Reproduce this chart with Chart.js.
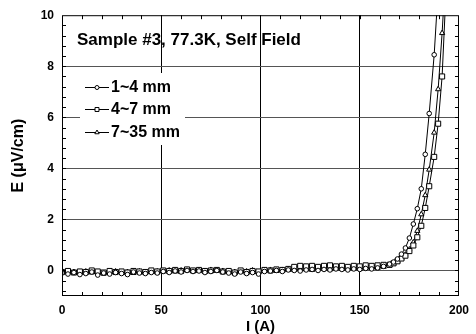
<!DOCTYPE html>
<html>
<head>
<meta charset="utf-8">
<title>E-I curves, Sample #3</title>
<script src="https://cdn.jsdelivr.net/npm/chart.js@4.4.1/dist/chart.umd.min.js"></script>
<style>
    html, body { margin: 0; padding: 0; background: #fff; }
</style>
</head>
<body>
<canvas id="eiChart" width="476" height="334"></canvas>
<script>
// transport current (A), shared by all three voltage taps
var current = [
    0, 3, 6, 9, 12, 15, 18, 21, 24, 27, 30, 33, 36, 39, 42, 45, 48,
    51, 54, 57, 60, 63, 66, 69, 72, 75, 78, 81, 84, 87, 90, 93, 96, 99,
    102, 105, 108, 111, 114, 117, 120, 123, 126, 129, 132, 135, 138, 141, 144, 147, 150, 153, 156, 159, 162,
    165, 167, 169, 171, 173, 175, 177, 179, 181, 183, 185, 187.5, 189.5, 191.5, 193.5
];

// electric field (uV/cm) for each tap spacing
var field1to4 = [
    -0.10, -0.14, -0.08, -0.16, -0.12, -0.06, -0.18, -0.10, -0.14, -0.08, -0.12, -0.16, -0.06, -0.10, -0.12, -0.08, -0.10,
    -0.04, -0.08, -0.02, -0.06, 0.00, -0.04, -0.02, -0.08, -0.04, 0.00, -0.06, -0.10, -0.14, -0.06, -0.12, -0.08, -0.14,
    -0.04, -0.02, 0.00, -0.04, 0.02, 0.00, -0.02, 0.02, 0.04, 0.00, 0.04, 0.02, 0.06, 0.04, 0.02, 0.06, 0.04, 0.08, 0.06, 0.10, 0.16,
    0.25, 0.33, 0.45, 0.64, 0.88, 1.27, 1.82, 2.42, 3.20, 4.55, 6.15, 8.45, 11.0, null, null
];
var field4to7 = [
    -0.06, -0.02, -0.08, -0.04, -0.06, 0.00, -0.04, -0.08, -0.02, -0.06, -0.04, -0.08, -0.02, -0.04, -0.06, 0.00, -0.04,
    0.00, -0.02, 0.02, -0.02, 0.04, 0.00, 0.02, -0.02, 0.00, 0.02, -0.04, -0.02, -0.08, 0.00, -0.06, -0.02, -0.04,
    0.02, 0.00, 0.04, 0.02, 0.06, 0.14, 0.18, 0.16, 0.18, 0.14, 0.18, 0.20, 0.16, 0.18, 0.14, 0.18, 0.16, 0.20, 0.18, 0.20, 0.22,
    0.22, 0.28, 0.36, 0.47, 0.58, 0.76, 0.98, 1.30, 1.75, 2.45, 3.30, 4.45, 5.75, 7.60, 11.0
];
var field7to35 = [
    -0.04, -0.08, -0.06, -0.10, -0.04, -0.08, -0.06, -0.12, -0.06, -0.04, -0.08, -0.06, -0.10, -0.04, -0.08, -0.06, -0.04,
    -0.02, 0.00, -0.04, 0.00, 0.02, -0.02, 0.00, -0.04, 0.02, 0.00, -0.02, -0.04, -0.06, -0.02, -0.04, 0.00, -0.06,
    0.00, 0.02, -0.02, 0.02, 0.04, 0.02, 0.06, 0.04, 0.02, 0.06, 0.08, 0.04, 0.08, 0.06, 0.10, 0.08, 0.06, 0.10, 0.12, 0.10, 0.14,
    0.20, 0.27, 0.36, 0.48, 0.62, 0.82, 1.10, 1.55, 2.20, 2.95, 3.95, 5.40, 7.10, 9.30, 12.0
];

var seriesNames = ['1~4 mm', '4~7 mm', '7~35 mm'];
var xTickValues = [0, 50, 100, 150, 200];
var yTickValues = [0, 2, 4, 6, 8, 10];
var sampleTitle = 'Sample #3, 77.3K, Self Field';

var FONT = "'Liberation Sans', Arial, sans-serif";

function toPoints(values) {
    return current.map(function(x, i) {
        return { x: x, y: values[i] };
    });
}

function makeSeries(name, values, style, radius) {
    return {
        label: name,
        data: toPoints(values),
        borderColor: '#000',
        borderWidth: 1,
        pointStyle: style,
        pointRadius: radius,
        pointBackgroundColor: '#fff',
        pointBorderColor: '#000',
        pointBorderWidth: 1,
        tension: 0,
        spanGaps: false
    };
}

// frame, inward minor ticks, sample label and the legend box
var decorations = {
    id: 'decorations',
    afterDraw: function(chart) {
        var ctx = chart.ctx;
        var a = chart.chartArea;
        var xs = chart.scales.x, ys = chart.scales.y;
        ctx.save();
        ctx.strokeStyle = '#000';
        ctx.lineWidth = 1;

        ctx.beginPath();
        for (var v = 10; v < 200; v += 10) {
            var px = Math.round(xs.getPixelForValue(v)) + 0.5;
            ctx.moveTo(px, a.bottom); ctx.lineTo(px, a.bottom - 4);
            ctx.moveTo(px, a.top); ctx.lineTo(px, a.top + 4);
        }
        for (var k = -2; k < 25; k++) {
            var py = Math.round(ys.getPixelForValue(k * 0.4)) + 0.5;
            ctx.moveTo(a.left, py); ctx.lineTo(a.left + 4, py);
            ctx.moveTo(a.right, py); ctx.lineTo(a.right - 4, py);
        }
        ctx.stroke();

        ctx.strokeRect(a.left + 0.5, a.top + 0.5, a.right - a.left - 1, a.bottom - a.top - 1);

        ctx.fillStyle = '#000';
        ctx.font = 'bold 17px ' + FONT;
        ctx.textBaseline = 'middle';
        ctx.textAlign = 'left';
        ctx.fillText(sampleTitle, 77, 40);

        ctx.fillStyle = '#fff';
        ctx.fillRect(80, 73, 105, 72);

        ctx.font = 'bold 16px ' + FONT;
        var rows = [87, 109, 132];
        var styles = ['circle', 'rect', 'triangle'];
        var radii = [2, 2.8, 2.5];
        for (var i = 0; i < seriesNames.length; i++) {
            ctx.beginPath();
            ctx.moveTo(85, rows[i] + 0.5);
            ctx.lineTo(109, rows[i] + 0.5);
            ctx.stroke();
            ctx.fillStyle = '#fff';
            Chart.helpers.drawPoint(ctx, { pointStyle: styles[i], radius: radii[i], rotation: 0, borderWidth: 1 }, 97, rows[i] + 0.5);
            ctx.fillStyle = '#000';
            ctx.fillText(seriesNames[i], 111, rows[i] + 1);
        }
        ctx.restore();
    }
};

var tickFont = { family: FONT, size: 12, weight: 'bold' };

new Chart(document.getElementById('eiChart').getContext('2d'), {
    type: 'line',
    data: {
        datasets: [
            makeSeries(seriesNames[0], field1to4, 'circle', 2.3),
            makeSeries(seriesNames[1], field4to7, 'rect', 3.6),
            makeSeries(seriesNames[2], field7to35, 'triangle', 3)
        ]
    },
    options: {
        responsive: false,
        animation: false,
        devicePixelRatio: 1,
        layout: { padding: { top: 15, right: 10, left: 0, bottom: 0 } },
        plugins: {
            legend: { display: false },
            tooltip: { enabled: false }
        },
        scales: {
            x: {
                type: 'linear',
                min: 0,
                max: 200,
                afterBuildTicks: function(s) {
                    s.ticks = xTickValues.map(function(v) { return { value: v }; });
                },
                afterFit: function(s) { s.height = 38; },
                border: { display: false },
                grid: {
                    drawTicks: false,
                    lineWidth: 1,
                    color: function(c) {
                        var v = c.tick ? c.tick.value : 0;
                        return (v === 0 || v === 200) ? 'rgba(0,0,0,0)' : '#000';
                    }
                },
                ticks: { padding: 7, autoSkip: false, maxRotation: 0, color: '#000', font: tickFont },
                title: {
                    display: true,
                    text: 'I (A)',
                    color: '#000',
                    font: { family: FONT, size: 15, weight: 'bold', lineHeight: 1 },
                    padding: { top: 0, bottom: 0 }
                }
            },
            y: {
                type: 'linear',
                min: -1,
                max: 10,
                afterBuildTicks: function(s) {
                    s.ticks = yTickValues.map(function(v) { return { value: v }; });
                },
                afterFit: function(s) { s.width = 62; },
                border: { display: false },
                grid: {
                    drawTicks: false,
                    lineWidth: 1,
                    color: function(c) {
                        var v = c.tick ? c.tick.value : 0;
                        return v === 10 ? 'rgba(0,0,0,0)' : '#555';
                    }
                },
                ticks: { padding: 8, color: '#000', font: tickFont },
                title: {
                    display: true,
                    text: 'E (\u03bcV/cm)',
                    color: '#000',
                    font: { family: FONT, size: 16, weight: 'bold', lineHeight: 1 },
                    padding: { top: 11, bottom: 0 }
                }
            }
        }
    },
    plugins: [decorations]
});
</script>
</body>
</html>
